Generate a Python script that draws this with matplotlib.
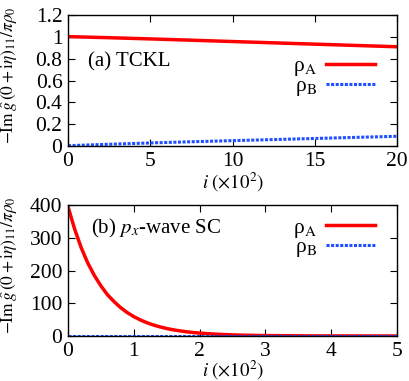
import numpy as np
import matplotlib
matplotlib.use("Agg")
import matplotlib.pyplot as plt

plt.rcParams['font.family'] = ['Liberation Serif', 'DejaVu Serif']
plt.rcParams['mathtext.fontset'] = 'stix'
plt.rcParams['font.size'] = 12

# (a) TCKL, i in units of 10^2
i_a = [0, 2.5, 5, 7.5, 10, 12.5, 15, 17.5, 20]
rho_A_a = [1.002, 0.992, 0.981, 0.969, 0.957, 0.945, 0.933, 0.921, 0.909]
rho_B_a = [0.003, 0.016, 0.028, 0.039, 0.049, 0.059, 0.069, 0.079, 0.089]

# (b) p_x-wave SC
i_b = [0.0, 0.1, 0.2, 0.3, 0.4, 0.5, 0.6, 0.7, 0.8, 0.9, 1.0,
       1.1, 1.2, 1.3, 1.4, 1.5, 1.6, 1.7, 1.8, 1.9, 2.0,
       2.2, 2.4, 2.6, 2.8, 3.0, 3.5, 4.0, 4.5, 5.0]
rho_A_b = [395, 327, 270, 223, 185, 153, 126, 105, 86.5, 71.6, 59.2,
           49, 40.5, 33.5, 27.7, 22.9, 18.9, 15.7, 12.9, 10.7, 8.9,
           6.1, 4.1, 2.8, 1.9, 1.3, 0.5, 0.2, 0.1, 0.05]
rho_B_b = [0.5] * len(i_b)

ylabel = r'$-\mathrm{Im}\,\hat{g}\,(0+\mathrm{i}\eta)_{11}/\pi\rho_0$'
xlabel = r'$i\ (\times 10^2)$'

fig = plt.figure(figsize=(4.09, 3.81), dpi=100)
W, H = 409, 381
ax1 = fig.add_axes([68 / W, 1 - 146 / H, 329 / W, 131 / H])
ax2 = fig.add_axes([68 / W, 1 - 336 / H, 329 / W, 131 / H])

red = '#ff0000'
blue = '#1f4fff'

for ax, x, ya, yb in [(ax1, i_a, rho_A_a, rho_B_a), (ax2, i_b, rho_A_b, rho_B_b)]:
    ax.plot(x, ya, color=red, lw=2.5, label='ρ$_\\mathrm{A}$')
    ax.plot(x, yb, color=blue, lw=2.2, ls=(0, (1, 0.5)), label='ρ$_\\mathrm{B}$')
    ax.tick_params(direction='in', top=True, right=True, length=5, labelsize=15.5, pad=4)
    ax.set_ylabel(ylabel, fontsize=12.5)
    ax.yaxis.set_label_coords(-0.145, 0.54)
    ax.set_xlabel(xlabel, fontsize=13.5, labelpad=0)
    leg = ax.legend(loc='upper right', markerfirst=False, frameon=False,
                    fontsize=15.5, handlelength=2.3, handletextpad=0.4,
                    labelspacing=-0.1, borderaxespad=0.3)
    for s in ax.spines.values():
        s.set_linewidth(1.0)

ax1.set_xlim(0, 20)
ax1.set_ylim(0, 1.2)
ax1.set_xticks([0, 5, 10, 15, 20])
ax1.set_yticks([0, 0.2, 0.4, 0.6, 0.8, 1.0, 1.2])
ax1.set_yticklabels(['0', '0.2', '0.4', '0.6', '0.8', '1', '1.2'])
ax1.text(0.06, 0.64, '(a) TCKL', transform=ax1.transAxes, fontsize=15, va='center')
ax1.get_legend().set_bbox_to_anchor((0.98, 0.80))

ax2.set_xlim(0, 5)
ax2.set_ylim(0, 400)
ax2.set_xticks([0, 1, 2, 3, 4, 5])
ax2.set_yticks([0, 100, 200, 300, 400])
ax2.text(0.07, 0.82, r'(b) $p_x$-wave SC', transform=ax2.transAxes, fontsize=15, va='center')
ax2.get_legend().set_bbox_to_anchor((0.98, 1.02))
ax2.xaxis.set_label_coords(0.5, -0.17)

fig.savefig('out.png', dpi=100)
